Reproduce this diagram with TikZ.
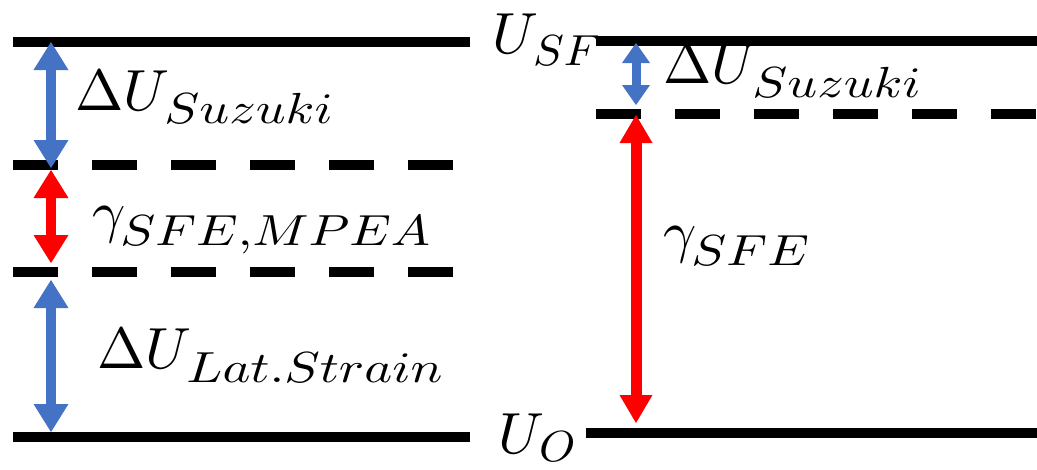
\documentclass[tikz,border=0pt]{standalone}
\usepackage{graphicx}
\usetikzlibrary{arrows.meta}
\definecolor{arrblue}{HTML}{4472C4}
\definecolor{arrred}{HTML}{FF0000}
% main symbol, subscript, horizontal scale of subscript, drop of subscript
\newcommand{\mlabel}[4]{\scalebox{5.8}{$#1$}\kern-5pt\raisebox{-#4pt}{\scalebox{#3}[4.35]{$#2$}}}
\tikzset{
  level/.style={line width=10pt, black},
  ldash/.style={level, dash pattern=on 45pt off 34pt},
  bigarrow/.style={line width=10pt, {Triangle[width=35pt,length=28pt,line width=0pt]}-{Triangle[width=35pt,length=28pt,line width=0pt]}},
  smallarrow/.style={line width=9pt, {Triangle[width=28pt,length=20pt,line width=0pt]}-{Triangle[width=28pt,length=20pt,line width=0pt]}},
  redarrow/.style={line width=11pt, {Triangle[width=33pt,length=28pt,line width=0pt]}-{Triangle[width=33pt,length=28pt,line width=0pt]}},
  lbl/.style={inner sep=0pt, anchor=base west}
}
\begin{document}
\begin{tikzpicture}[x=1pt,y=-1pt]
\useasboundingbox (0,0) rectangle (1037,469);
% left levels
\draw[level] (13,42) -- (470,42);
\draw[ldash] (13,165) -- (455,165);
\draw[ldash] (13,272) -- (455,272);
\draw[level] (13,437) -- (470,437);
% right levels
\draw[level] (596,41) -- (1040,41);
\draw[ldash] (596,114) -- (1040,114);
\draw[level] (586,433) -- (1040,433);
% arrow end points
\coordinate (lb1t) at (51,42);
\coordinate (lb1b) at (51,168);
\coordinate (lrt) at (51,170);
\coordinate (lrb) at (51,263);
\coordinate (lb2t) at (51,280);
\coordinate (lb2b) at (51,432);
\coordinate (rbt) at (636,43);
\coordinate (rbb) at (636,105);
\coordinate (rrt) at (636,115);
\coordinate (rrb) at (636,423);
% arrows
\draw[bigarrow, arrblue] (lb1t) -- (lb1b);
\draw[bigarrow, arrred] (lrt) -- (lrb);
\draw[bigarrow, arrblue] (lb2t) -- (lb2b);
\draw[smallarrow, arrblue] (rbt) -- (rbb);
\draw[redarrow, arrred] (rrt) -- (rrb);
% labels
\node[lbl] (lsuz) at (75,110) {\mlabel{\Delta U}{Suzuki}{5.22}{13}};
\node[lbl] (lgam) at (92,231) {\mlabel{\gamma}{SFE{,}MPEA}{5.22}{14}};
\node[lbl] (llat) at (97,368) {\mlabel{\Delta U}{Lat.Strain}{5.3}{14}};
\node[lbl] (usf) at (492,53) {\mlabel{U}{SF}{4.6}{12}};
\node[lbl] (uo) at (498,453) {\mlabel{U}{O}{4.6}{8}};
\node[lbl] (rsuz) at (663,83) {\mlabel{\Delta U}{Suzuki}{5.22}{14}};
\node[lbl] (rgam) at (663,251) {\mlabel{\gamma}{SFE}{5.22}{14}};
\end{tikzpicture}
\end{document}
